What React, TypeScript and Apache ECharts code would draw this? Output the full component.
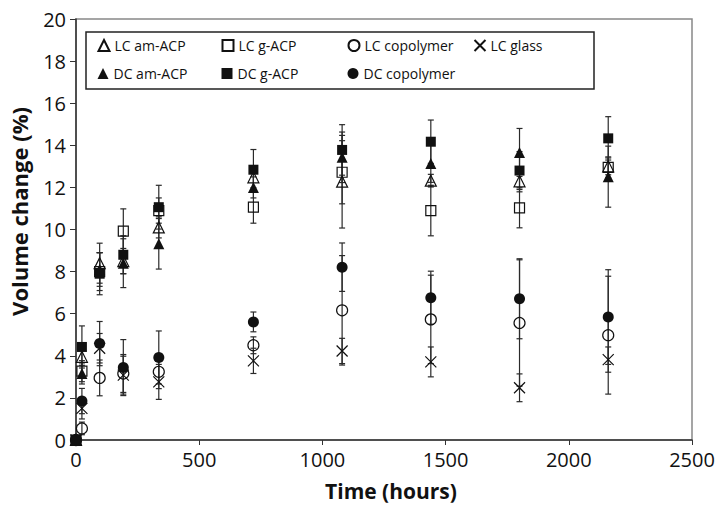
import React, { useEffect, useRef } from "react";
import * as echarts from "echarts";

const times = [0, 24, 96, 192, 336, 720, 1080, 1440, 1800, 2160];

const lcAmAcp = [0, 3.95, 8.4, 8.5, 10.1, 12.48, 12.27, 12.32, 12.29, 13.0];
const lcAmAcpErr = [0, 0.4, 0.95, 0.6, 0.5, 0.5, 2.2, 0.3, 0.5, 0.4];
const lcGAcp = [0, 3.27, 8.0, 9.92, 10.9, 11.06, 12.72, 10.9, 11.03, 12.95];
const lcGAcpErr = [0, 0.5, 0.9, 1.06, 0.6, 0.76, 1.5, 1.2, 0.95, 0.5];
const lcCopolymer = [0, 0.55, 2.95, 3.16, 3.24, 4.5, 6.16, 5.73, 5.56, 4.98];
const lcCopolymerErr = [0, 0.3, 0.85, 0.9, 0.8, 0.4, 2.6, 2.1, 3.0, 2.8];
const lcGlass = [0, 1.5, 4.36, 3.08, 2.76, 3.76, 4.23, 3.71, 2.48, 3.82];
const lcGlassErr = [0, 0.5, 0.7, 0.9, 0.83, 0.6, 0.6, 0.71, 0.66, 0.6];
const dcAmAcp = [0, 3.16, 8.1, 8.4, 9.32, 12.0, 13.43, 13.14, 13.66, 12.51];
const dcAmAcpErr = [0, 0.5, 0.8, 1.16, 1.2, 0.5, 1.2, 0.9, 1.14, 1.45];
const dcGAcp = [0, 4.42, 7.9, 8.8, 11.06, 12.84, 13.78, 14.17, 12.8, 14.33];
const dcGAcpErr = [0, 1.0, 1.0, 0.9, 1.04, 0.96, 1.2, 1.03, 0.9, 1.03];
const dcCopolymer = [0, 1.85, 4.58, 3.44, 3.92, 5.61, 8.21, 6.76, 6.71, 5.84];
const dcCopolymerErr = [0, 0.6, 1.05, 1.33, 1.26, 0.47, 1.15, 1.26, 1.9, 2.25];

const xTicks = { min: 0, max: 2500, interval: 500 };
const yTicks = { min: 0, max: 20, interval: 2 };

const FONT = "Open Sans";
const INK = "#111";
const OPEN = { color: "rgba(0,0,0,0)", borderColor: INK, borderWidth: 1.2, opacity: 1 };
const FILLED = { color: INK, borderColor: INK, borderWidth: 0, opacity: 1 };
const XSYM = "path://M0 0L10 10M10 0L0 10";

type Def = {
  name: string;
  vals: number[];
  err: number[];
  symbol: string;
  size: number;
  style: any;
  z: number;
  legend: [number, number];
};

const defs: Def[] = [
  { name: "LC glass", vals: lcGlass, err: lcGlassErr, symbol: XSYM, size: 11, style: OPEN, z: 3, legend: [479, 46.5] },
  { name: "LC copolymer", vals: lcCopolymer, err: lcCopolymerErr, symbol: "circle", size: 11, style: OPEN, z: 4, legend: [353, 46.5] },
  { name: "DC copolymer", vals: dcCopolymer, err: dcCopolymerErr, symbol: "circle", size: 11, style: FILLED, z: 5, legend: [353, 74.5] },
  { name: "LC g-ACP", vals: lcGAcp, err: lcGAcpErr, symbol: "rect", size: 10, style: OPEN, z: 6, legend: [227, 46.5] },
  { name: "LC am-ACP", vals: lcAmAcp, err: lcAmAcpErr, symbol: "triangle", size: 11, style: OPEN, z: 7, legend: [103, 46.5] },
  { name: "DC am-ACP", vals: dcAmAcp, err: dcAmAcpErr, symbol: "triangle", size: 11, style: FILLED, z: 8, legend: [103, 74.5] },
  { name: "DC g-ACP", vals: dcGAcp, err: dcGAcpErr, symbol: "rect", size: 10, style: FILLED, z: 9, legend: [227, 74.5] },
];

function errorRender(params: any, api: any) {
  const x = api.value(0);
  const v = api.value(1);
  const e = api.value(2);
  const top = api.coord([x, v + e]);
  const bot = api.coord([x, v - e]);
  const hw = 3;
  const st = { stroke: "#2a2a2a", lineWidth: 1.2 };
  return {
    type: "group",
    children: [
      { type: "line", shape: { x1: top[0], y1: top[1], x2: bot[0], y2: bot[1] }, style: st },
      { type: "line", shape: { x1: top[0] - hw, y1: top[1], x2: top[0] + hw, y2: top[1] }, style: st },
      { type: "line", shape: { x1: bot[0] - hw, y1: bot[1], x2: bot[0] + hw, y2: bot[1] }, style: st },
    ],
  };
}

export default function App() {
  const ref = useRef<HTMLDivElement>(null);
  useEffect(() => {
    if (!ref.current) return;
    const chart = echarts.init(ref.current, undefined, { renderer: "svg" });

    const series: any[] = [];
    defs.forEach((d) => {
      series.push({
        type: "custom",
        name: d.name + " error",
        renderItem: errorRender,
        data: times.map((t, i) => [t, d.vals[i], d.err[i]]).filter((r) => r[2] > 0),
        encode: { x: 0, y: 1 },
        z: 1,
        silent: true,
      });
    });
    defs.forEach((d) => {
      series.push({
        type: "scatter",
        name: d.name,
        data: times.map((t, i) => [t, d.vals[i]]),
        symbol: d.symbol,
        symbolSize: d.size,
        symbolKeepAspect: true,
        itemStyle: d.style,
        emphasis: { disabled: true },
        z: d.z,
      });
    });

    const legends = defs.map((d) => ({
      data: [d.name],
      left: d.legend[0] - 5.5,
      top: d.legend[1] - 8,
      padding: 0,
      itemWidth: 11,
      itemHeight: 11,
      itemGap: 0,
      selectedMode: false,
      textStyle: { fontFamily: FONT, fontSize: 14, color: "#111" },
    }));

    chart.setOption({
      animation: false,
      backgroundColor: "#fff",
      textStyle: { fontFamily: FONT },
      grid: {
        left: 74,
        right: 32,
        top: 19,
        bottom: 71,
        show: true,
        borderColor: "#888",
        borderWidth: 1.5,
      },
      legend: legends,
      xAxis: {
        type: "value",
        min: xTicks.min,
        max: xTicks.max,
        interval: xTicks.interval,
        name: "Time (hours)",
        nameLocation: "middle",
        nameGap: 40,
        nameTextStyle: { fontFamily: FONT, fontSize: 21, fontWeight: "bold", color: "#111", padding: [0, 0, 0, 14] },
        splitLine: { show: false },
        axisLine: { lineStyle: { color: "#333", width: 1.5 } },
        axisTick: { show: true, length: 5, lineStyle: { color: "#333" } },
        axisLabel: { fontFamily: FONT, fontSize: 20, color: "#111", margin: 9, formatter: (v: number) => String(v) },
      },
      yAxis: {
        type: "value",
        min: yTicks.min,
        max: yTicks.max,
        interval: yTicks.interval,
        name: "Volume change (%)",
        nameLocation: "middle",
        nameGap: 46,
        nameTextStyle: { fontFamily: FONT, fontSize: 22, fontWeight: "bold", color: "#111", padding: [0, 0, 0, 36] },
        splitLine: { show: false },
        axisLine: { show: true, lineStyle: { color: "#333", width: 1.5 } },
        axisTick: { show: true, length: 6, lineStyle: { color: "#333" } },
        axisLabel: { fontFamily: FONT, fontSize: 20, color: "#111", margin: 10 },
      },
      graphic: [
        {
          type: "rect",
          shape: { x: 86, y: 32, width: 508, height: 57 },
          style: { fill: "rgba(0,0,0,0)", stroke: "#222", lineWidth: 1.5 },
          z: 0,
          silent: true,
        },
      ],
      series,
    });
    return () => chart.dispose();
  }, []);
  return <div ref={ref} style={{ width: 724, height: 511, position: "absolute", left: 0, top: 0 }} />;
}
